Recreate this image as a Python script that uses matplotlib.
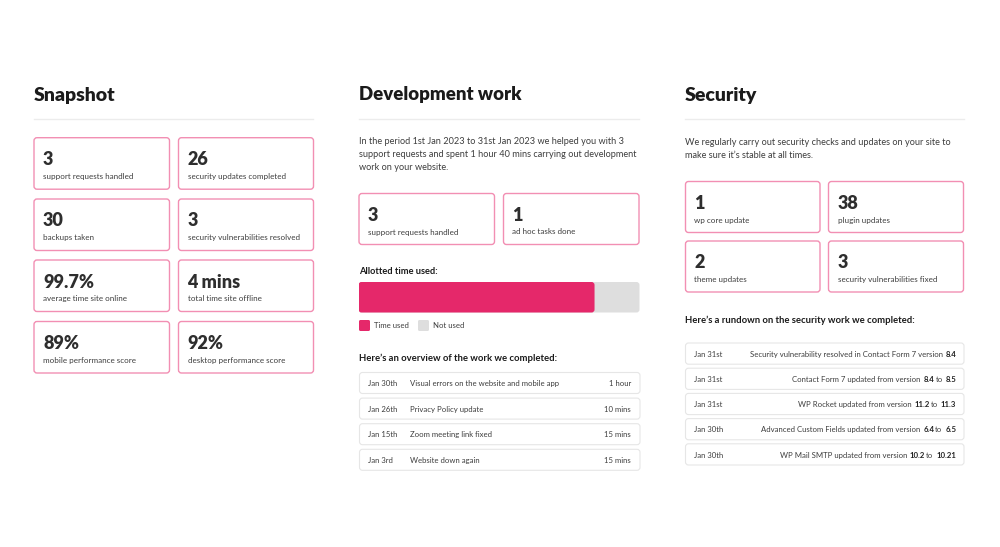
import matplotlib
matplotlib.use("Agg")
import matplotlib.pyplot as plt
from matplotlib.patches import FancyBboxPatch

plt.rcParams["font.family"] = ["Lato", "DejaVu Sans"]

# ---- data ----
snapshot_values = ["3", "26", "30", "3", "99.7%", "4 mins", "89%", "92%"]
snapshot_labels = ["support requests handled", "security updates completed",
                   "backups taken", "security vulnerabilities resolved",
                   "average time site online", "total time site offline",
                   "mobile performance score", "desktop performance score"]

dev_intro = ["In the period 1st Jan 2023 to 31st Jan 2023 we helped you with 3",
             "support requests and spent 1 hour 40 mins carrying out development",
             "work on your website."]
dev_values = ["3", "1"]
dev_labels = ["support requests handled", "ad hoc tasks done"]
time_used_pct = 84
time_not_used_pct = 16
dev_dates = ["Jan 30th", "Jan 26th", "Jan 15th", "Jan 3rd"]
dev_tasks = ["Visual errors on the website and mobile app", "Privacy Policy update",
             "Zoom meeting link fixed", "Website down again"]
dev_durations = ["1 hour", "10 mins", "15 mins", "15 mins"]

sec_intro = ["We regularly carry out security checks and updates on your site to",
             "make sure it\u2019s stable at all times."]
sec_values = ["1", "38", "2", "3"]
sec_labels = ["wp core update", "plugin updates", "theme updates",
              "security vulnerabilities fixed"]
sec_dates = ["Jan 31st", "Jan 31st", "Jan 31st", "Jan 30th", "Jan 30th"]
# (text, bold) pieces
sec_items = [
    [("Security vulnerability resolved in Contact Form 7 version", False), ("8.4", True)],
    [("Contact Form 7 updated from version", False), ("8.4", True), ("to", False), ("8.5", True)],
    [("WP Rocket updated from version", False), ("11.2", True), ("to", False), ("11.3", True)],
    [("Advanced Custom Fields updated from version", False), ("6.4", True), ("to", False), ("6.5", True)],
    [("WP Mail SMTP updated from version", False), ("10.2", True), ("to", False), ("10.21", True)],
]

# ---- style ----
TITLE = "#1b1b1b"
TEXT = "#3d3d3d"
PINK_EDGE = "#f28fb3"
PINK = "#e5286a"
GREY = "#dedede"
LINE = "#ececec"
ROW_EDGE = "#e6e6e6"

W, H = 1000, 547
fig = plt.figure(figsize=(W / 100, H / 100), dpi=100)
ax = fig.add_axes([0, 0, 1, 1])
ax.set_xlim(0, W)
ax.set_ylim(H, 0)
ax.axis("off")
renderer = fig.canvas.get_renderer()


def box(x0, y0, x1, y1, edge, lw=1.0, r=3):
    ax.add_patch(FancyBboxPatch((x0, y0), x1 - x0, y1 - y0,
                                boxstyle=f"round,pad=0,rounding_size={r}",
                                fc="white", ec=edge, lw=lw))


def header(x, x1, title, ybase=100, size=14):
    ax.text(x, ybase, title, fontsize=size, fontweight=800, color=TITLE, va="baseline")
    ax.plot([x, x1], [118.5, 118.5], color=LINE, lw=1)


def card(x0, y0, x1, y1, value, label):
    box(x0, y0, x1, y1, PINK_EDGE)
    ax.text(x0 + 9, y0 + 27.5, value, fontsize=13, fontweight=800, color="#2e2e2e", va="baseline")
    ax.text(x0 + 9, y0 + 41, label, fontsize=5.75, color=TEXT, va="baseline")


def width_of(t):
    bb = t.get_window_extent(renderer=renderer)
    return bb.width


# ---- Snapshot column ----
header(34, 313, "Snapshot", 101, 14)
cols = [(34, 169.5), (178.5, 313.5)]
rows = [137.7, 199, 260, 321.5]
for i, (v, lab) in enumerate(zip(snapshot_values, snapshot_labels)):
    cx0, cx1 = cols[i % 2]
    ry = rows[i // 2]
    card(cx0, ry, cx1, ry + 51.5, v, lab)

# ---- Development work column ----
header(359, 639, "Development work", 100, 13.4)
for k, line in enumerate(dev_intro):
    ax.text(359, 144.5 + k * 12.7, line, fontsize=6.6, color=TEXT, va="baseline")
dcols = [(359, 494.5), (503.5, 639)]
for i, (v, lab) in enumerate(zip(dev_values, dev_labels)):
    card(dcols[i][0], 193.5, dcols[i][1], 244.5, v, lab)

ax.text(359, 274, "Allotted time used:", fontsize=6.7, fontweight="bold", color=TITLE, va="baseline")

bax = fig.add_axes([358.5 / W, 1 - 312.5 / H, 281 / W, 30.5 / H])
bax.set_xlim(0, 100)
bax.set_ylim(-0.5, 0.5)
bax.axis("off")
bars = bax.barh([0, 0], [time_used_pct + time_not_used_pct, time_used_pct],
                height=1.0, color=[GREY, PINK])
for rect in bars:
    rx, ry = rect.get_x(), rect.get_y()
    bax.add_patch(FancyBboxPatch((rx, ry), rect.get_width(), rect.get_height(),
                                 boxstyle=f"round,pad=0,rounding_size={3 * 100 / 281}",
                                 mutation_aspect=(1 / 30.5) / (100 / 281),
                                 fc=rect.get_facecolor(), ec="none"))
    rect.set_visible(False)

for (lx, name, col) in [(359, "Time used", PINK), (418, "Not used", GREY)]:
    ax.add_patch(FancyBboxPatch((lx, 320), 11, 11, boxstyle="round,pad=0,rounding_size=1.5",
                                fc=col, ec="none"))
    ax.text(lx + 15, 328.5, name, fontsize=5.6, color=TEXT, va="baseline")

ax.text(359, 361, "Here\u2019s an overview of the work we completed:", fontsize=6.8,
        fontweight="bold", color=TITLE, va="baseline")
for k, (d, t, dur) in enumerate(zip(dev_dates, dev_tasks, dev_durations)):
    y0 = 372.5 + k * 25.6
    box(359.5, y0, 640, y0 + 21, ROW_EDGE, lw=0.8, r=3)
    yb = y0 + 13.5
    ax.text(368, yb, d, fontsize=5.6, color=TEXT, va="baseline")
    ax.text(410, yb, t, fontsize=5.6, color=TEXT, va="baseline")
    ax.text(631, yb, dur, fontsize=5.6, color=TEXT, va="baseline", ha="right")

# ---- Security column ----
header(685, 964, "Security", 101, 14)
for k, line in enumerate(sec_intro):
    ax.text(685, 145.3 + k * 12.7, line, fontsize=6.6, color=TEXT, va="baseline")
scols = [(685.5, 820), (828.5, 963.5)]
srows = [181.5, 241]
for i, (v, lab) in enumerate(zip(sec_values, sec_labels)):
    card(scols[i % 2][0], srows[i // 2], scols[i % 2][1], srows[i // 2] + 51, v, lab)

ax.text(685, 323, "Here\u2019s a rundown on the security work we completed:", fontsize=6.8,
        fontweight="bold", color=TITLE, va="baseline")
gap = 2.0
for k, (d, pieces) in enumerate(zip(sec_dates, sec_items)):
    y0 = 343 + k * 25.2
    box(685.5, y0, 964, y0 + 21.2, ROW_EDGE, lw=0.8, r=3)
    yb = y0 + 13.8
    ax.text(694, yb, d, fontsize=5.6, color=TEXT, va="baseline")
    xr = 955.5
    for txt, bold in reversed(pieces):
        # bold digits sit a touch left in their box, nudge them right
        t = ax.text(xr + (0.9 if bold else 0), yb, txt, fontsize=5.6,
                    color="#222222" if bold else TEXT,
                    fontweight="bold" if bold else "normal", va="baseline", ha="right")
        xr -= width_of(t) + gap

fig.savefig("out.png", dpi=100, facecolor="white")
